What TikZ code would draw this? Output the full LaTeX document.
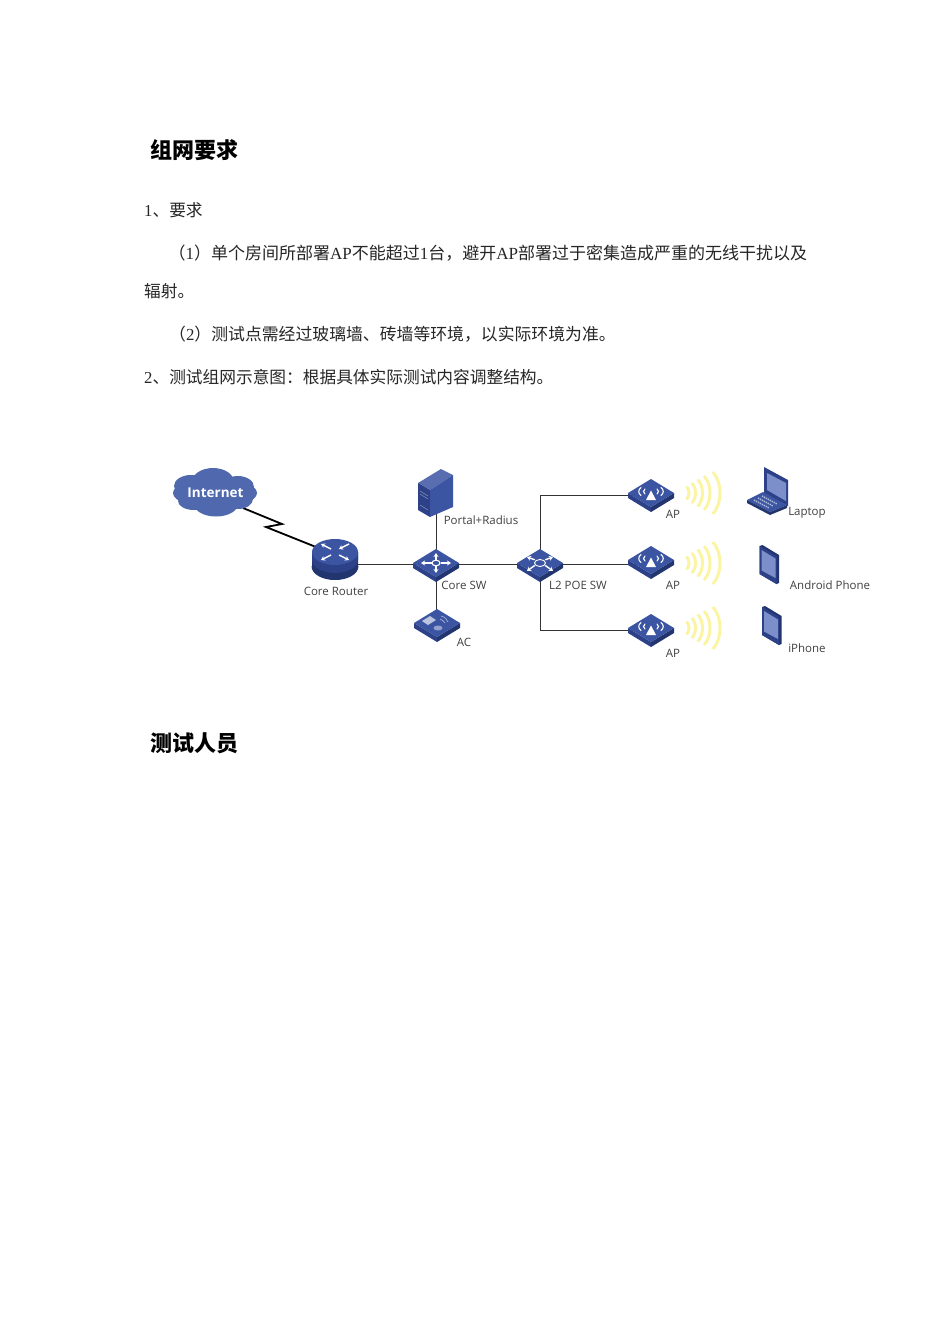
\documentclass[tikz,border=0pt]{standalone}
\usepackage{fontspec}
\setmainfont{Noto Sans CJK SC}
\newfontfamily\lat{Liberation Serif}
\newfontfamily\lab{Open Sans}
\usetikzlibrary{arrows.meta}
\definecolor{topc}{HTML}{3B55A2}
\definecolor{sidea}{HTML}{2C4188}
\definecolor{sideb}{HTML}{22356F}
\definecolor{cloudc}{HTML}{4F68AE}
\definecolor{screenc}{HTML}{7D8FCB}
\definecolor{wavec}{HTML}{FBF4A0}
\definecolor{labc}{HTML}{404040}
\newcommand{\bsize}[1]{\fontsize{#1}{18}\selectfont}
\tikzset{
  body/.style={anchor=base west,inner sep=0pt,font=\bsize{16.7},text=black!85},
  head/.style={anchor=base west,inner sep=0pt,font=\fontsize{22}{24}\selectfont\bfseries,text=black},
  lbl/.style={inner sep=0pt,font=\lab\fontsize{11.5}{13}\selectfont,text=labc},
  link/.style={line width=1pt,black!80},
  wl/.style={white,line width=1.4pt,-{Stealth[length=4pt,width=5pt]}},
  wc/.style={white,line width=1.1pt,line cap=round},
}
\newcommand{\slab}[2]{%
  \begin{scope}[shift={(#1,#2)}]
    \fill[sidea] (-23,-2) -- (0,12) -- (0,17) -- (-23,3) -- cycle;
    \fill[sideb] (23,-2) -- (0,12) -- (0,17) -- (23,3) -- cycle;
    \fill[topc] (-23,-2) -- (0,-16) -- (23,-2) -- (0,12) -- cycle;
  \end{scope}}
\newcommand{\apicon}[2]{%
  \slab{#1}{#2}
  \begin{scope}[shift={(#1,#2)}]
    \fill[white] (0,-4.5) -- (-5,5) -- (5,5) -- cycle;
    \draw[wc] (-6,-6) .. controls (-8,-4.5) and (-8,-2.5) .. (-6,-1);
    \draw[wc] (6,-6) .. controls (8,-4.5) and (8,-2.5) .. (6,-1);
    \draw[wc] (-10,-7.5) .. controls (-13,-5) and (-13,-2) .. (-10,0.5);
    \draw[wc] (10,-7.5) .. controls (13,-5) and (13,-2) .. (10,0.5);
  \end{scope}}
\newcommand{\waves}[2]{%
  \begin{scope}[shift={(#1,#2)}]
    \foreach \i/\ax/\hh in {0/2/6.5,1/8.5/10,2/15.5/13.5,3/23/17,4/33/21}{
      \pgfmathsetmacro{\dd}{2.5+1.15*\i}
      \draw[wavec,line width=2.9pt] (\ax-\dd,-\hh) .. controls (\ax+.33*\dd,-.5*\hh) and (\ax+.33*\dd,.5*\hh) .. (\ax-\dd,\hh);
    }
  \end{scope}}
\newcommand{\tablet}[2]{%
  \begin{scope}[shift={(#1,#2)}]
    \fill[sideb] (0,0) -- (3,-1) -- (19.5,9) -- (19.5,37) -- (17,38) -- (0,28) -- cycle;
    \fill[sidea] (0,0) -- (17,10) -- (17,38) -- (0,28) -- cycle;
    \fill[screenc] (2,4) -- (16,12.5) -- (16,32) -- (2,24.5) -- cycle;
  \end{scope}}
\begin{document}
\begin{tikzpicture}[x=1pt,y=-1pt]
\useasboundingbox (0,0) rectangle (950,1344);
\fill[white] (0,0) rectangle (950,1344);
% text
\node[head] (h1) at (150,158) {组网要求};
\node[body] (t1) at (144,216) {{\lat 1}、要求};
\node[body,font=\bsize{17}] (t2) at (168.5,259) {（{\lat 1}）单个房间所部署{\lat AP}不能超过{\lat 1}台，避开{\lat AP}部署过于密集造成严重的无线干扰以及};
\node[body] (t3) at (144,297) {辐射。};
\node[body,font=\bsize{16.85}] (t4) at (169,340) {（{\lat 2}）测试点需经过玻璃墙、砖墙等环境，以实际环境为准。};
\node[body] (t5) at (144,383) {{\lat 2}、测试组网示意图：根据具体实际测试内容调整结构。};
\node[head] (h2) at (150,751) {测试人员};
% anchors
\coordinate (router) at (334,564);
\coordinate (core) at (436,564);
\coordinate (server) at (436,500);
\coordinate (ac) at (436,622);
\coordinate (l2) at (540,564);
\coordinate (ap1) at (651,495);
\coordinate (ap2) at (651,564);
\coordinate (ap3) at (651,630);
\coordinate (inet) at (243,508);
\coordinate (rtop) at (316,547);
% connectors
\draw[link] (router) -- (core);
\draw[link] (core) -- (l2);
\draw[link] (server) -- (core);
\draw[link] (core) -- (ac);
\draw[link] (l2) -- (ap2);
\draw[link] (l2) |- (ap1);
\draw[link] (l2) |- (ap3);
\draw[black,line width=1.8pt] (inet) -- (282,524) -- (266,527) -- (rtop);
% cloud
\fill[cloudc] (215,493) ellipse[x radius=42,y radius=15];
\fill[cloudc] (191,486) ellipse[x radius=17,y radius=11];
\fill[cloudc] (213,482) ellipse[x radius=21,y radius=14];
\fill[cloudc] (238,487) ellipse[x radius=16,y radius=11];
\fill[cloudc] (194,501) ellipse[x radius=16,y radius=9];
\fill[cloudc] (216,504) ellipse[x radius=22,y radius=12.5];
\fill[cloudc] (238,499) ellipse[x radius=15,y radius=10];
\node[inner sep=0pt,font=\lab\bfseries\fontsize{13.5}{16}\selectfont,text=white] (internet) at (215.5,493) {Internet};
% router
\fill[sideb] (312,552) -- (312,567) arc[start angle=180,end angle=0,x radius=23,y radius=13] -- (358,552) -- cycle;
\fill[sidea] (312,552) -- (312,560) arc[start angle=180,end angle=0,x radius=23,y radius=13] -- (358,552) -- cycle;
\draw[sideb,line width=1pt] (312,566) arc[start angle=180,end angle=0,x radius=23,y radius=13];
\fill[topc] (335,552) ellipse[x radius=23,y radius=13];
\draw[wl] (331,549) -- (321,544);
\draw[wl] (349,544) -- (339,549);
\draw[wl] (331,555) -- (321,560);
\draw[wl] (339,555) -- (349,560);
% server
\fill[topc!85!white] (418,483) -- (441,469) -- (453,475) -- (430,490) -- cycle;
\fill[sidea] (418,483) -- (430,490) -- (430,517) -- (418,510) -- cycle;
\fill[topc] (430,490) -- (453,475) -- (453,507) -- (430,517) -- cycle;
\draw[white!45!sidea,line width=.5pt] (420,491) -- (428,496) (420,494) -- (428,499) (420,505) -- (428,510);
% core switch
\slab{436}{565}
\foreach \a/\b in {0/-12,0/8,-15/-2,15/-2}{
  \draw[wl] (436+.3*\a,563+.3*\b+.6) -- (436+\a,565+\b);
}
\draw[white,line width=1.1pt] (436,563) ellipse[x radius=4,y radius=2.8];
% ac
\slab{437}{625}
\fill[white!65!topc] (422,621) -- (430,616) -- (436,620) -- (428,625) -- cycle;
\draw[white!55!topc,line width=.7pt] (441,616) .. controls (445,617) and (447,619) .. (448,622);
\draw[white!55!topc,line width=.7pt] (440,619) .. controls (442,620) and (444,621) .. (445,623);
\fill[white!45!topc] (438,628) ellipse[x radius=4.5,y radius=2.5];
% l2
\slab{540}{565}
\foreach \a/\b in {-13/-8,13/-8,-13/6,13/6}{
  \draw[wl] (540+.4*\a,563+.4*\b) -- (540+\a,565+\b);
}
\draw[white,line width=.9pt] (540,563) ellipse[x radius=5.5,y radius=3.5];
% APs
\apicon{651}{495}
\apicon{651}{562}
\apicon{651}{630}
\waves{687}{493}
\waves{687}{563}
\waves{687}{628}
% laptop
\fill[sidea] (764,467) -- (788,480) -- (788,506) -- (764,494) -- cycle;
\fill[screenc] (767,473) -- (786,483) -- (786,501) -- (767,490) -- cycle;
\fill[topc] (747,500) -- (763,492) -- (787,505) -- (770,512) -- cycle;
\fill[sideb] (747,500) -- (770,512) -- (770,515) -- (747,503) -- cycle;
\fill[sideb] (770,512) -- (787,505) -- (787,508) -- (770,515) -- cycle;
\draw[white!60!topc,line width=1.5pt,dash pattern=on 1.3pt off .9pt] (754,500) -- (769,508) (758,498) -- (773,506) (762,496) -- (777,504);
% tablets
\tablet{759.5}{546}
\tablet{762}{607}
% labels
\node[lbl] (lrouter) at (336,591) {Core Router};
\node[lbl] (lportal) at (481,520) {Portal+Radius};
\node[lbl] (lcore) at (464,585) {Core SW};
\node[lbl] (lac) at (464,642) {AC};
\node[lbl] (ll2) at (578,585) {L2 POE SW};
\node[lbl] (lap1) at (673,514) {AP};
\node[lbl] (lap2) at (673,585) {AP};
\node[lbl] (lap3) at (673,653) {AP};
\node[lbl] (llaptop) at (807,513) {Laptop};
\node[lbl] (landroid) at (830,585) {Android Phone};
\node[lbl] (liphone) at (807,648) {iPhone};
\end{tikzpicture}
\end{document}
